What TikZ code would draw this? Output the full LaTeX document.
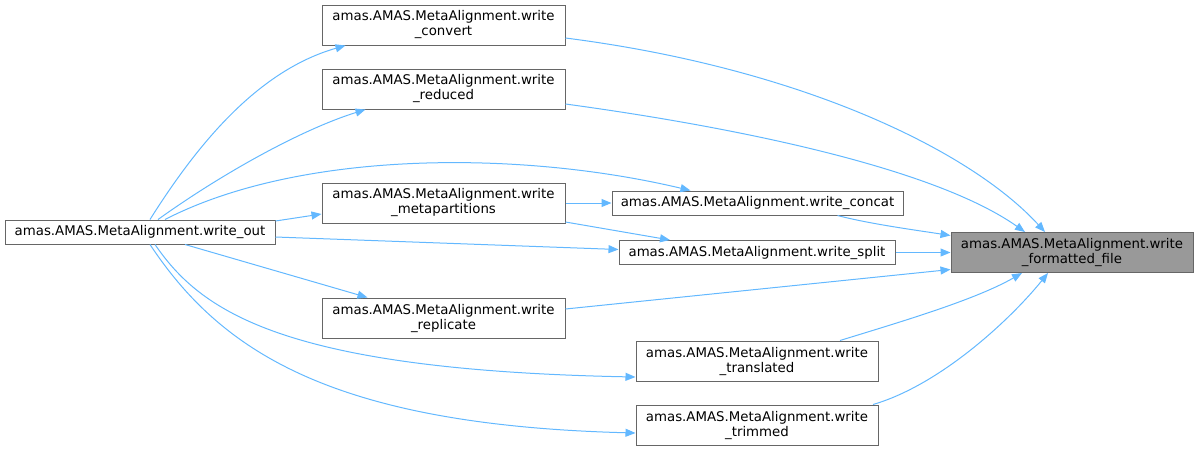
\documentclass[tikz,border=0pt]{standalone}
\usepackage{fontspec}
\setmainfont{DejaVu Sans}
\usetikzlibrary{arrows.meta,calc}
\definecolor{edgeblue}{HTML}{63B8FF}
\definecolor{boxline}{HTML}{666666}
\definecolor{boxgrey}{HTML}{999999}

\begin{document}
\begin{tikzpicture}[x=.75pt,y=-.75pt,>={Triangle[length=7.5pt,width=6pt]},
 fn/.style={draw=boxline,line width=.75pt,fill=white,inner sep=0pt,align=center,
  font=\fontsize{10}{11.25}\selectfont},
 one/.style={fn,minimum height=18pt},
 two/.style={fn,minimum height=30pt},
 call/.style={->,draw=edgeblue,line width=.75pt}]
\useasboundingbox (0,0) rectangle (1197,451);

\node[one,minimum width=202.5pt] (wout) at (140,232) {amas.AMAS.MetaAlignment.write\_out};
\node[two,minimum width=182.25pt] (convert) at (443.5,25) {amas.AMAS.MetaAlignment.write\\\_convert};
\node[two,minimum width=182.25pt] (reduced) at (443.5,89) {amas.AMAS.MetaAlignment.write\\\_reduced};
\node[two,minimum width=182.25pt] (metapart) at (443.5,203) {amas.AMAS.MetaAlignment.write\\\_metapartitions};
\node[two,minimum width=182.25pt] (replicate) at (443.5,318) {amas.AMAS.MetaAlignment.write\\\_replicate};
\node[one,minimum width=218.25pt] (concat) at (757.5,203) {amas.AMAS.MetaAlignment.write\_concat};
\node[one,minimum width=207pt] (split) at (757,252.5) {amas.AMAS.MetaAlignment.write\_split};
\node[two,minimum width=181.5pt] (translated) at (757,361) {amas.AMAS.MetaAlignment.write\\\_translated};
\node[two,minimum width=181.5pt] (trimmed) at (757,425) {amas.AMAS.MetaAlignment.write\\\_trimmed};
\node[two,minimum width=181.5pt,fill=boxgrey] (ffile) at (1072,252.5) {amas.AMAS.MetaAlignment.write\\\_formatted\_file};

\draw[call] ($(convert.east)+(0,13)$) .. controls (800,68) and (970,150) .. ($(ffile.north)+(-27,0)$);
\draw[call] ($(reduced.east)+(0,15)$) .. controls (720,125) and (930,165) .. ($(ffile.north)+(-47,0)$);
\draw[call] ($(concat.south)+(80,0)$) .. controls (870,224) and (915,230) .. ($(ffile.west)+(0,-17)$);
\draw[call] (split.east) -- (ffile.west);
\draw[call] ($(replicate.east)+(0,-9)$) -- ($(ffile.west)+(0,17)$);
\draw[call] ($(translated.north)+(83,0)$) .. controls (900,322) and (975,300) .. ($(ffile.south)+(-50,0)$);
\draw[call] ($(trimmed.north)+(116,0)$) .. controls (940,385) and (1010,320) .. ($(ffile.south)+(-24,0)$);

\draw[call] ($(wout.north)+(10,0)$) .. controls (200,140) and (260,70) .. ($(convert.south)+(-98,0)$);
\draw[call] ($(wout.north)+(18,0)$) .. controls (220,175) and (300,130) .. ($(reduced.south)+(-78,0)$);
\draw[call] ($(wout.north)+(25,0)$) .. controls (300,150) and (520,150) .. ($(concat.north)+(-67,0)$);
\draw[call] ($(wout.east)+(0,-11)$) -- ($(metapart.west)+(0,11)$);
\draw[call] (metapart.east) -- (concat.west);
\draw[call] ($(metapart.east)+(0,19)$) -- ($(split.north)+(-87,0)$);
\draw[call] ($(wout.east)+(0,5)$) -- ($(split.west)+(0,-3)$);
\draw[call] ($(wout.south)+(45,0)$) -- ($(replicate.north)+(-76,0)$);
\draw[call] ($(wout.south)+(15,0)$) .. controls (200,310) and (280,370) .. ($(translated.west)+(0,16)$);
\draw[call] ($(wout.south)+(10,0)$) .. controls (220,350) and (330,425) .. ($(trimmed.west)+(0,8)$);
\end{tikzpicture}
\end{document}
